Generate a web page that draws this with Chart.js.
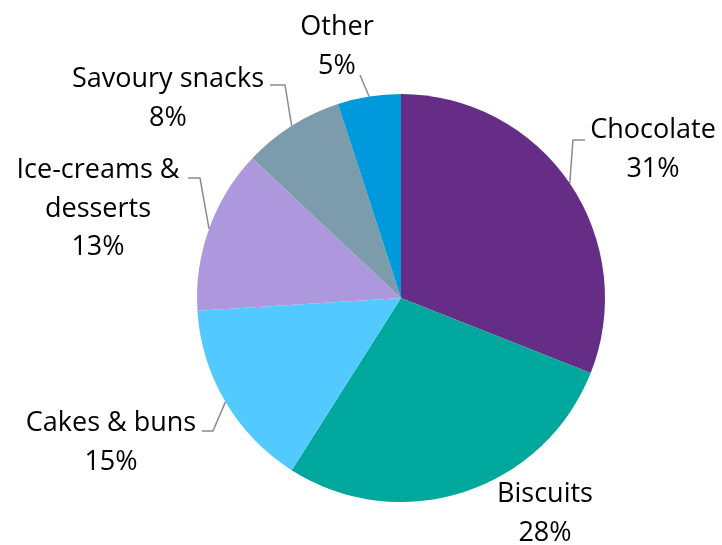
<!DOCTYPE html>
<html>
<head>
<meta charset="utf-8">
<script src="https://cdn.jsdelivr.net/npm/chart.js@4/dist/chart.umd.min.js"></script>
<style>
  html, body { margin: 0; padding: 0; background: #ffffff; }
  canvas { display: block; }
</style>
</head>
<body>
<canvas id="pie" width="722" height="545"></canvas>
<script>
// Market share of sweet snack categories (%)
const categories = ['Chocolate', 'Biscuits', 'Cakes & buns', 'Ice-creams & desserts', 'Savoury snacks', 'Other'];
const shares = [31, 28, 15, 13, 8, 5];
const sliceColors = ['#662D87', '#00A79D', '#52CAFF', '#AD98DD', '#7C9BAB', '#0099DC'];

// Label text split into lines
const labelLines = [
  ['Chocolate'],
  ['Biscuits'],
  ['Cakes & buns'],
  ['Ice-creams &', 'desserts'],
  ['Savoury snacks'],
  ['Other']
];

// Label placement relative to the pie centre: text centre x / first baseline,
// plus the elbow points of each leader line (drawn towards the slice edge).
const labelLayout = [
  { dx: 252,  dy: -160, leader: [[184, -158], [172, -158]] },
  { dx: 144,  dy: 204,  leader: null },
  { dx: -290, dy: 133,  leader: [[-199, 133], [-188, 133]] },
  { dx: -303, dy: -120, leader: [[-213, -120], [-201, -120]] },
  { dx: -233, dy: -211, leader: [[-131, -213], [-116, -213]] },
  { dx: -64,  dy: -263, leader: [[-41, -223]] }
];

const FONT = '27px "Open Sans", "Liberation Sans", sans-serif';
const LINE_GAP = 38.5;

const outsideLabels = {
  id: 'outsideLabels',
  afterDatasetsDraw(chart) {
    const ctx = chart.ctx;
    const meta = chart.getDatasetMeta(0);
    ctx.save();
    meta.data.forEach((arc, i) => {
      const { x, y, startAngle, endAngle, outerRadius } = arc.getProps(['x', 'y', 'startAngle', 'endAngle', 'outerRadius'], true);
      const mid = (startAngle + endAngle) / 2;
      const ax = x + Math.cos(mid) * outerRadius;
      const ay = y + Math.sin(mid) * outerRadius;
      const lay = labelLayout[i];

      if (lay.leader) {
        ctx.beginPath();
        ctx.strokeStyle = '#8C8C8C';
        ctx.lineWidth = 1.5;
        lay.leader.forEach((p, k) => {
          if (k === 0) ctx.moveTo(x + p[0], y + p[1]);
          else ctx.lineTo(x + p[0], y + p[1]);
        });
        ctx.lineTo(ax, ay);
        ctx.stroke();
      }

      const lines = labelLines[i].concat([shares[i] + '%']);
      ctx.fillStyle = '#000000';
      ctx.font = FONT;
      ctx.textAlign = 'center';
      ctx.textBaseline = 'alphabetic';
      lines.forEach((t, k) => {
        ctx.fillText(t, x + lay.dx, y + lay.dy + k * LINE_GAP);
      });
    });
    ctx.restore();
  }
};

new Chart(document.getElementById('pie'), {
  type: 'pie',
  data: {
    labels: categories,
    datasets: [{
      data: shares,
      backgroundColor: sliceColors,
      borderWidth: 0
    }]
  },
  options: {
    responsive: false,
    animation: false,
    layout: { padding: { top: 94, bottom: 43, left: 197, right: 117 } },
    plugins: {
      legend: { display: false },
      tooltip: { enabled: false }
    }
  },
  plugins: [outsideLabels]
});
</script>
</body>
</html>
